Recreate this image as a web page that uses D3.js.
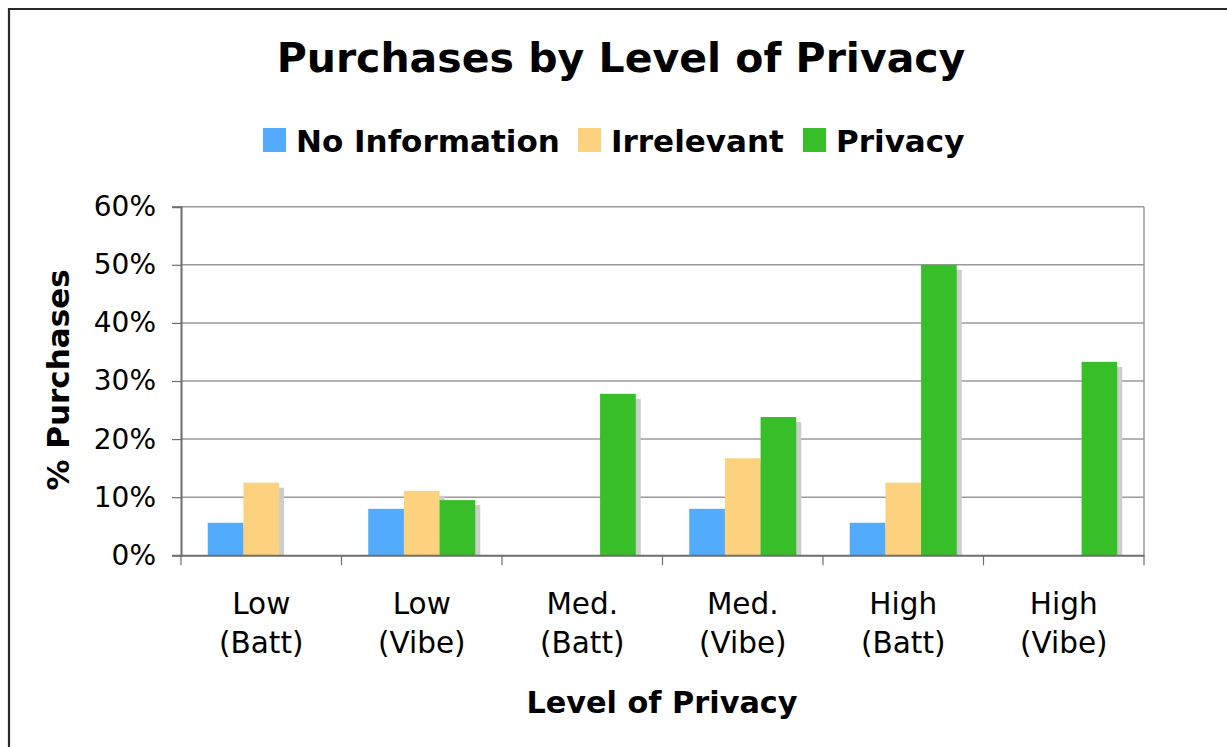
<!DOCTYPE html>
<html><head><meta charset="utf-8">
<script src="https://cdn.jsdelivr.net/npm/d3@7"></script>
<style>
html,body{margin:0;padding:0;background:#fff;}
svg{display:block;}
text{font-family:"DejaVu Sans",Verdana,sans-serif;fill:#000;}
</style></head>
<body><svg id="chart" width="1227" height="747"></svg>
<script>
const categories = [["Low","(Batt)"],["Low","(Vibe)"],["Med.","(Batt)"],["Med.","(Vibe)"],["High","(Batt)"],["High","(Vibe)"]];
const seriesNames = ["No Information","Irrelevant","Privacy"];
const noInformation = [5.6, 8.0, 0, 8.0, 5.6, 0];
const irrelevant = [12.5, 11.1, 0, 16.7, 12.5, 0];
const privacy = [0, 9.5, 27.8, 23.8, 50.0, 33.3];
const yTicks = [0,10,20,30,40,50,60];
const colors = ["#52abfb","#fcd27f","#38be28"];

const seriesValues = [noInformation, irrelevant, privacy];
const svg = d3.select("#chart");

// outer frame
svg.append("path").attr("d","M9,760 L9,9 L1240,9").attr("fill","none").attr("stroke","#2a2a2a").attr("stroke-width",2.2);

const m = {left:181, right:1144, top:206.7, bottom:555.3};
const catKeys = categories.map((c,i)=>i);
const x0 = d3.scaleBand().domain(catKeys).range([m.left,m.right]).padding(0);
const x1 = d3.scaleBand().domain(seriesNames).range([0,x0.bandwidth()]).paddingInner(0).paddingOuter(0.75);
const y = d3.scaleLinear().domain([0,60]).range([m.bottom,m.top]);

// gridlines
svg.append("g").selectAll("line").data(yTicks.filter(d=>d>0)).join("line")
  .attr("x1",m.left).attr("x2",m.right).attr("y1",d=>y(d)).attr("y2",d=>y(d))
  .attr("stroke","#9a9a9a").attr("stroke-width",1.5);
// right border
svg.append("line").attr("x1",m.right).attr("x2",m.right).attr("y1",m.top).attr("y2",m.bottom)
  .attr("stroke","#9a9a9a").attr("stroke-width",1.5);

// bars with shadows
const groups = svg.append("g").selectAll("g").data(catKeys).join("g")
  .attr("transform",d=>`translate(${x0(d)},0)`);
const barData = ci => seriesNames.map((s,si)=>({s, si, v: seriesValues[si][ci]})).filter(d=>d.v>0);
groups.selectAll("rect.sh").data(barData).join("rect").attr("class","sh")
  .attr("x",d=>x1(d.s)+5).attr("y",d=>y(d.v)+5).attr("width",x1.bandwidth())
  .attr("height",d=>Math.max(0,y(0)-y(d.v)-5)).attr("fill","#cdcdcd");
groups.selectAll("rect.bar").data(barData).join("rect").attr("class","bar")
  .attr("x",d=>x1(d.s)).attr("y",d=>y(d.v)).attr("width",x1.bandwidth())
  .attr("height",d=>y(0)-y(d.v)).attr("fill",d=>colors[d.si]);

// y axis
const yAxis = svg.append("g").attr("transform",`translate(${m.left},0)`)
  .call(d3.axisLeft(y).tickValues(yTicks).tickSize(9).tickPadding(16).tickFormat(d=>d+"%"));
yAxis.select(".domain").attr("stroke","#6e6e6e").attr("stroke-width",2);
yAxis.selectAll(".tick line").attr("stroke","#6e6e6e").attr("stroke-width",1.2);
yAxis.selectAll(".tick text").attr("font-size",28).attr("fill","#111").attr("font-family","DejaVu Sans");

// x axis
const xAxis = svg.append("g").attr("transform",`translate(0,${m.bottom})`)
  .call(d3.axisBottom(x0).tickSize(0).tickFormat(""));
xAxis.select(".domain").attr("stroke","#6e6e6e").attr("stroke-width",2);
const bounds = catKeys.map(k=>x0(k)).concat([m.right]);
svg.append("g").selectAll("line").data(bounds).join("line")
  .attr("x1",d=>d).attr("x2",d=>d).attr("y1",m.bottom).attr("y2",m.bottom+10)
  .attr("stroke","#6e6e6e").attr("stroke-width",1.2);
const lbl = svg.append("g").selectAll("text").data(catKeys).join("text")
  .attr("x",d=>x0(d)+x0.bandwidth()/2).attr("text-anchor","middle")
  .attr("font-size",29.5).attr("fill","#111");
lbl.append("tspan").attr("x",d=>x0(d)+x0.bandwidth()/2).attr("y",614).text(d=>categories[d][0]);
lbl.append("tspan").attr("x",d=>x0(d)+x0.bandwidth()/2).attr("y",653).text(d=>categories[d][1]);

// titles
svg.append("text").attr("x",621).attr("y",72).attr("text-anchor","middle")
  .attr("font-size",41).attr("font-weight","bold").text("Purchases by Level of Privacy");
svg.append("text").attr("x",662).attr("y",713).attr("text-anchor","middle")
  .attr("font-size",30.3).attr("font-weight","bold").text("Level of Privacy");
svg.append("text").attr("transform","translate(69,380) rotate(-90)").attr("text-anchor","middle")
  .attr("font-size",31).attr("font-weight","bold").text("% Purchases");

// legend
const legX = [263, 578, 803];
const leg = svg.append("g").selectAll("g").data(seriesNames).join("g")
  .attr("transform",(d,i)=>`translate(${legX[i]},128)`);
leg.append("rect").attr("width",23).attr("height",24).attr("fill",(d,i)=>colors[i]);
leg.append("text").attr("x",33).attr("y",24).attr("font-size",31).attr("font-weight","bold").text(d=>d);
</script></body></html>
